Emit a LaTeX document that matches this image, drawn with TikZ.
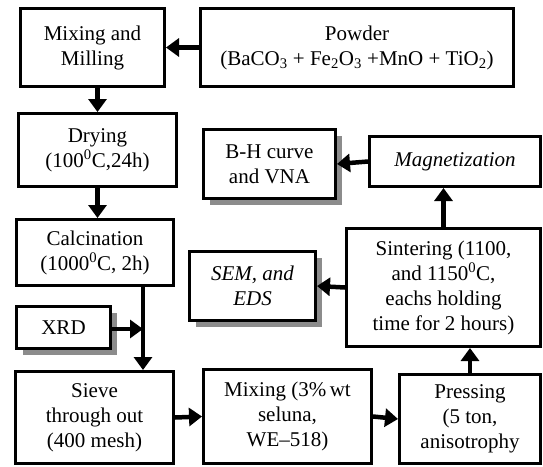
\documentclass[tikz,border=0pt]{standalone}
\usepackage{fontspec}
\setmainfont{Liberation Serif}
\usepackage{tikz}
\usetikzlibrary{arrows.meta, shadows}

\begin{document}
\begin{tikzpicture}[x = 1pt, y = -1pt,
		stage/.style = {draw, line width = 3pt, fill = white, align = center, inner sep = 0pt, font = \fontsize{21}{25}\selectfont},
		tested/.style = {stage, drop shadow = {shadow xshift = 6pt, shadow yshift = -6pt, fill = black!45, opacity = 1}},
		flow/.style = {line width = 4.5pt, -{Triangle[length = 13pt, width = 18pt]}}]

		\useasboundingbox (0,0) rectangle (543,466);

		\coordinate (join) at (143,329);

		\node (mill) at (92.5,47.5) [stage, minimum width = 144pt, minimum height = 78pt] {Mixing and\\Milling};
		\node (powder) at (357,47.5) [stage, minimum width = 313pt, minimum height = 78pt] {Powder\\(BaCO\textsubscript{3} + Fe\textsubscript{2}O\textsubscript{3} +MnO + TiO\textsubscript{2})};
		\node (dry) at (97.5,150) [stage, minimum width = 158pt, minimum height = 73pt] {Drying\\(100\textsuperscript{0}C,24h)};
		\node (calc) at (95,252.5) [stage, minimum width = 157pt, minimum height = 66pt] {Calcination\\(1000\textsuperscript{0}C, 2h)};
		\node (xrd) at (63.5,327.5) [tested, minimum width = 94pt, minimum height = 42pt] {XRD};
		\node (sieve) at (94.5,417.5) [stage, minimum width = 158pt, minimum height = 92pt] {Sieve\\through out\\(400 mesh)};
		\node (mixwax) at (287.5,416.5) [stage, minimum width = 168pt, minimum height = 94pt] {Mixing (3\%\,wt\\seluna,\\WE--518)};
		\node (press) at (470,419) [stage, minimum width = 141pt, minimum height = 89pt] {Pressing\\(5 ton,\\anisotrophy};
		\node (sem) at (252.5,286) [tested, minimum width = 126pt, minimum height = 69pt] {\itshape SEM, and\\\itshape EDS};
		\node (bh) at (269.5,164) [tested, minimum width = 132pt, minimum height = 69pt] {B-H curve\\and VNA};
		\node (mag) at (455,161.5) [stage, minimum width = 171pt, minimum height = 50pt] {\itshape Magnetization};
		\node (sint) at (443.5,287.5) [stage, minimum width = 194pt, minimum height = 118pt] {Sintering (1100,\\and 1150\textsuperscript{0}C,\\eachs holding\\time for 2 hours)};

		\draw [flow] (powder.west) -- (mill.east);
		\draw [flow] (mill.south -| dry.north) -- (dry.north);
		\draw [flow] (dry.south) -- (dry.south |- calc.north);
		\draw [line width = 4.5pt] (calc.south -| join) -- (join);
		\draw [flow] (join) -- (sieve.north -| join);
		\draw [flow] (xrd.east |- join) -- (join);
		\draw [flow] (sieve.east) -- (mixwax.west);
		\draw [flow] (mixwax.east) -- (press.west);
		\draw [flow] (press.north) -- (press.north |- sint.south);
		\draw [flow] (sint.west) -- (sem.east);
		\draw [flow] (sint.north) -- (sint.north |- mag.south);
		\draw [flow] (mag.west) -- (bh.east);
	\end{tikzpicture}
\end{document}
